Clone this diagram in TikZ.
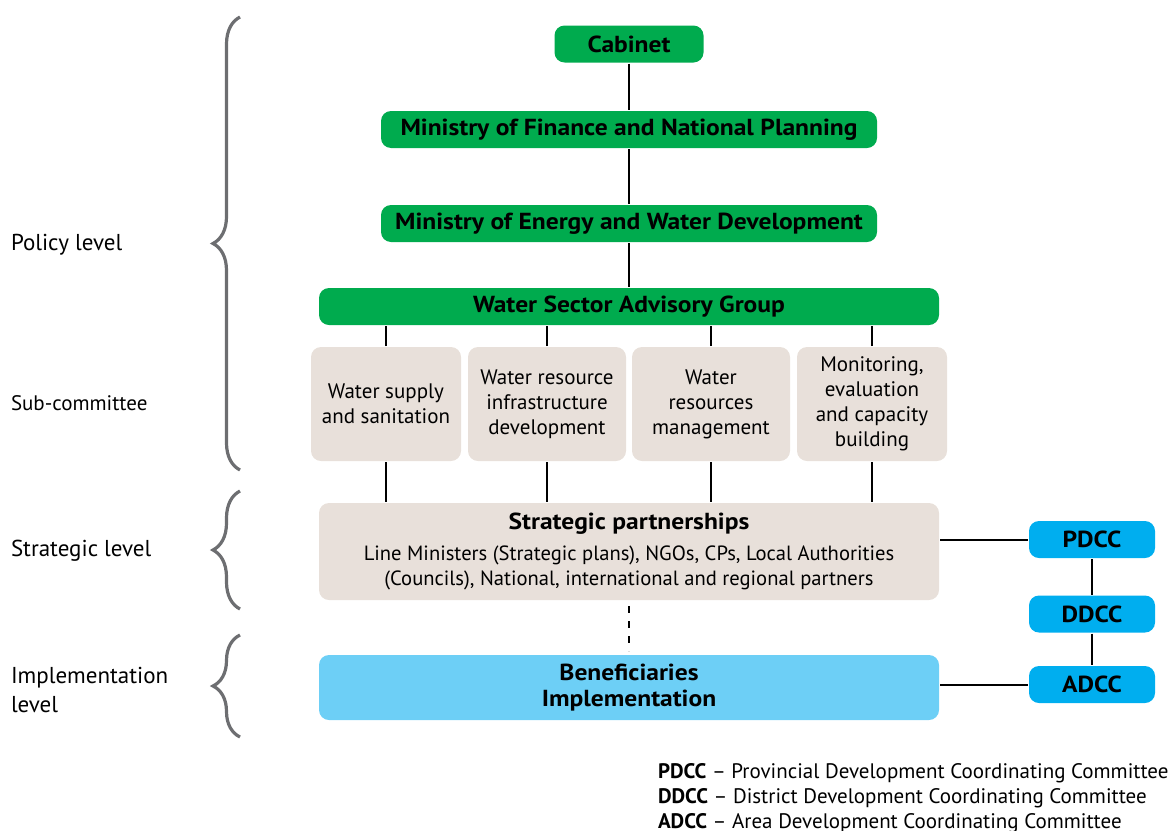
\documentclass[tikz,border=0pt]{standalone}
\usepackage{fontspec}
\setmainfont{PT Sans}
\newfontfamily\titlefont{PT Sans}[FakeStretch=1.1]
\usetikzlibrary{decorations.pathreplacing}
\definecolor{wgreen}{HTML}{00AB4E}
\definecolor{wbeige}{HTML}{E8E0DA}
\definecolor{wsky}{HTML}{6DCFF6}
\definecolor{wblue}{HTML}{00AEEF}
\definecolor{wgray}{HTML}{6D6E71}
\tikzset{every path/.style={line width=1pt}, every node/.style={inner sep=0pt, font=\fontsize{10.5}{12.5}\selectfont},
  greenbox/.style={fill=wgreen, rounded corners=5pt, minimum height=18.5pt, font=\titlefont\bfseries\fontsize{11.6}{13}\selectfont},
  subbox/.style={fill=wbeige, rounded corners=5pt, minimum height=57pt, align=center},
  widebox/.style={rounded corners=5pt, minimum width=310pt, align=center},
  dccbox/.style={fill=wblue, rounded corners=5pt, minimum width=63pt, minimum height=18.5pt, font=\titlefont\bfseries\fontsize{11.6}{13}\selectfont},
  lvlbrace/.style={decorate, decoration={brace, amplitude=13.5pt}, wgray, line width=1.6pt},
  lvltext/.style={anchor=west, align=left, font=\fontsize{11.5}{14.5}\selectfont}}

\begin{document}
\begin{tikzpicture}[x=0.5pt,y=-0.5pt]
   \useasboundingbox (0,0) rectangle (1170,830);
   \node[greenbox, minimum width=74.5pt] (cab)  at (629, 44.0) {Cabinet};
   \node[greenbox, minimum width=248pt]  (mof)  at (629,129.5) {Ministry of Finance and National Planning};
   \node[greenbox, minimum width=248pt]  (moe)  at (629,223.5) {Ministry of Energy and Water Development};
   \node[greenbox, minimum width=310pt]  (wsag) at (629,306.5) {Water Sector Advisory Group};
   \node[subbox, minimum width=75pt] (sub1) at (386,404) {Water supply\\and sanitation};
   \node[subbox, minimum width=79pt] (sub2) at (547,404) {Water resource\\infrastructure\\development};
   \node[subbox, minimum width=79pt] (sub3) at (711,404) {Water\\resources\\management};
   \node[subbox, minimum width=75pt] (sub4) at (872,404) {Monitoring,\\evaluation\\and capacity\\building};
   \node[widebox, fill=wbeige, minimum height=48.5pt, font=\fontsize{10.3}{12.5}\selectfont] (sp) at (629,551.5)
        {{\titlefont\bfseries\fontsize{11.6}{13}\selectfont Strategic partnerships}\\[3pt]
         Line Ministers (Strategic plans), NGOs, CPs, Local Authorities\\
         (Councils), National, international and regional partners};
   \node[widebox, fill=wsky, minimum height=32.5pt, font=\titlefont\bfseries\fontsize{11.6}{13}\selectfont] (ben) at (629,687.5)
        {Beneficiaries\\Implementation};
   \node[dccbox] (pdcc) at (1092,539.5) {PDCC};
   \node[dccbox] (ddcc) at (1092,614.0) {DDCC};
   \node[dccbox] (adcc) at (1092,684.5) {ADCC};
   \draw (cab) -- (mof);
   \draw (mof) -- (moe);
   \draw (moe) -- (wsag);
   \foreach \s in {sub1,sub2,sub3,sub4} {
     \draw (\s.north) -- (\s.north |- wsag.south);
     \draw (\s.south) -- (\s.south |- sp.north);
   }
   \draw[dash pattern=on 3.5pt off 4pt] ([yshift=-2.5pt]sp.south) -- ([yshift=1.5pt]ben.north);
   \draw (pdcc.west) -- (pdcc.west -| sp.east);
   \draw (adcc.west) -- (adcc.west -| ben.east);
   \draw (pdcc) -- (ddcc);
   \draw (ddcc) -- (adcc);
   \draw[lvlbrace] (240,470) -- (240,17);
   \draw[lvlbrace] (240,609) -- (240,491);
   \draw[lvlbrace] (240,737) -- (240,635);
   \node[lvltext] (pol) at (10,245) {Policy level};
   \node[anchor=west] (subc) at (10,403) {Sub-committee};
   \node[lvltext] (strat) at (10,551) {Strategic level};
   \node[lvltext] (impl) at (10,690) {Implementation\\level};
   \node[anchor=base west] (lgp) at (657,778) {\textbf{PDCC} – Provincial Development Coordinating Committee};
   \node[anchor=base west] (lgd) at (657,803) {\textbf{DDCC} – District Development Coordinating Committee};
   \node[anchor=base west] (lga) at (657,828) {\textbf{ADCC} – Area Development Coordinating Committee};
\end{tikzpicture}
\end{document}
